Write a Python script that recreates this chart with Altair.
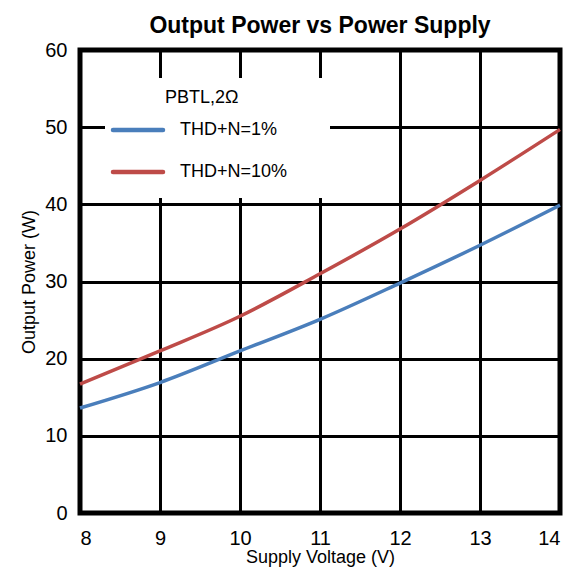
import altair as alt
import pandas as pd

voltage = [8, 9, 10, 11, 12, 13, 14]
thd1 = [13.6, 16.9, 21.0, 25.1, 29.8, 34.7, 39.9]
thd10 = [16.7, 21.0, 25.5, 31.0, 36.8, 43.1, 49.7]
series = ["THD+N=1%", "THD+N=10%"]
colors = ["#4a7ebb", "#be4b48"]
legend_title = "PBTL,2Ω"

rows = []
for v, a, b in zip(voltage, thd1, thd10):
    rows.append({"V": v, "P": a, "s": series[0]})
    rows.append({"V": v, "P": b, "s": series[1]})
df = pd.DataFrame(rows)

FONT = "Liberation Sans, Arial, sans-serif"

lines = alt.Chart(df).mark_line(strokeWidth=3.5, interpolate="monotone").encode(
    x=alt.X("V:Q", scale=alt.Scale(domain=[8, 14], nice=False),
            axis=alt.Axis(title="Supply Voltage (V)", values=voltage, grid=True)),
    y=alt.Y("P:Q", scale=alt.Scale(domain=[0, 60], nice=False),
            axis=alt.Axis(title="Output Power (W)", values=[0, 10, 20, 30, 40, 50, 60], grid=True)),
    color=alt.Color("s:N", sort=series, scale=alt.Scale(domain=series, range=colors), legend=None),
)

one = pd.DataFrame({"t": [legend_title]})
box = alt.Chart(one).mark_rect(fill="white").encode(
    x=alt.value(25), x2=alt.value(250), y=alt.value(28), y2=alt.value(148)
)
ltitle = alt.Chart(one).mark_text(align="left", baseline="middle", fontSize=18, font=FONT, color="black").encode(
    x=alt.value(85), y=alt.value(48), text="t:N"
)
leg_df = pd.DataFrame({"s": series, "c": colors, "yy": [80, 122]})
sym = alt.Chart(leg_df).mark_rule(strokeWidth=4.5, strokeCap="round").encode(
    x=alt.value(33), x2=alt.value(83), y=alt.Y("yy:Q", scale=None),
    color=alt.Color("c:N", scale=None)
)
lab = alt.Chart(leg_df).mark_text(align="left", baseline="middle", fontSize=18, font=FONT, color="black").encode(
    x=alt.value(100), y=alt.Y("yy:Q", scale=None), text="s:N"
)

chart = alt.layer(lines, box, ltitle, sym, lab).properties(
    width=480, height=463,
    title=alt.TitleParams("Output Power vs Power Supply", font=FONT, fontSize=23,
                          fontWeight="bold", color="black", offset=2, anchor="middle"),
    autosize=alt.AutoSizeParams(type="none"),
    padding={"left": 72, "top": 42, "right": 8, "bottom": 56},
).configure_view(
    stroke="black", strokeWidth=5
).configure_axis(
    gridColor="black", gridWidth=3, gridOpacity=1, domain=False, ticks=False,
    labelFont=FONT, labelFontSize=20, labelColor="black",
    titleFont=FONT, titleFontSize=18, titleColor="black", titleFontWeight="normal",
).configure_axisX(
    labelPadding=15, titlePadding=0
).configure_axisY(
    labelPadding=13, titlePadding=6
)

chart.save("out.html", embed_options={"renderer": "svg", "actions": False})
